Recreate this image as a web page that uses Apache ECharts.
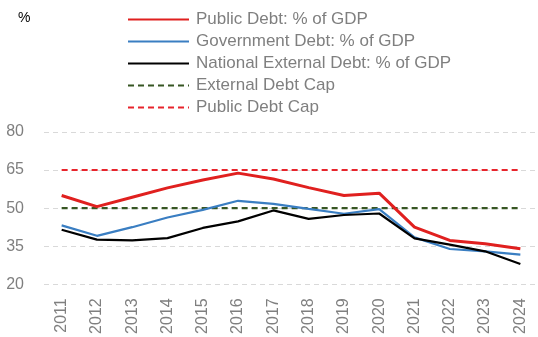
<!DOCTYPE html>
<html>
<head>
<meta charset="utf-8">
<script src="https://cdn.jsdelivr.net/npm/echarts@6/dist/echarts.min.js"></script>
<style>
  html, body { margin: 0; padding: 0; background: #fff; }
  #chart { width: 538px; height: 337px; }
</style>
</head>
<body>
<div id="chart"></div>
<script>
// Years on the category axis
const years = ['2011','2012','2013','2014','2015','2016','2017','2018','2019','2020','2021','2022','2023','2024'];

// Debt ratios, % of GDP
const publicDebt     = [55.0, 50.6, 54.3, 58.0, 61.1, 63.8, 61.5, 58.1, 55.0, 55.9, 42.5, 37.3, 36.0, 34.0];
const governmentDebt = [43.2, 39.1, 42.5, 46.3, 49.3, 52.9, 51.7, 49.7, 47.8, 49.6, 38.5, 33.9, 33.0, 31.7];
const externalDebt   = [41.5, 37.6, 37.3, 38.2, 42.2, 44.8, 49.1, 45.8, 47.3, 47.9, 38.1, 35.6, 33.0, 28.0];

// Statutory caps
const externalDebtCap = years.map(() => 50);
const publicDebtCap   = years.map(() => 65);

// Value axis ticks
const yTicks = [20, 35, 50, 65, 80];

const labelGrey = '#7f7f7f';
const font = 'Liberation Sans, Arial, sans-serif';

const chart = echarts.init(document.getElementById('chart'), null, { renderer: 'canvas' });

function lineSeries(name, data, color, width, type, z) {
  return {
    name, type: 'line', data, z,
    symbol: 'none', smooth: false,
    lineStyle: { color, width, type },
    itemStyle: { color },
    emphasis: { disabled: true },
    animation: false
  };
}

chart.setOption({
  animation: false,
  textStyle: { fontFamily: font },
  grid: { left: 44, right: -6, top: 132, bottom: 52.7, containLabel: false },
  title: {
    text: '%', left: 13, top: 6,
    textStyle: { fontSize: 14, fontWeight: 'normal', color: '#000', fontFamily: font }
  },
  legend: {
    orient: 'vertical', left: 122, top: 6,
    itemWidth: 61, itemHeight: 14, itemGap: 5,
    itemStyle: { opacity: 0 },
    textStyle: { fontSize: 17, color: labelGrey, lineHeight: 14, padding: [0, 0, 0, 2], fontFamily: font },
    data: ['Public Debt: % of GDP', 'Government Debt: % of GDP', 'National External Debt: % of GDP', 'External Debt Cap', 'Public Debt Cap']
  },
  xAxis: {
    type: 'category', data: years, boundaryGap: true,
    axisLine: { show: false },
    axisTick: { show: false },
    axisLabel: { rotate: 90, margin: 14, fontSize: 16, color: labelGrey, fontFamily: font }
  },
  yAxis: {
    type: 'value', min: yTicks[0], max: yTicks[yTicks.length - 1], interval: 15,
    axisLine: { show: false }, axisTick: { show: false },
    axisLabel: { fontSize: 16, color: labelGrey, margin: 20, fontFamily: font },
    splitLine: {
      show: true,
      lineStyle: { color: '#d9d9d9', type: [5, 4], width: 1 }
    }
  },
  series: [
    lineSeries('Public Debt: % of GDP', publicDebt, '#e0201f', 3, 'solid', 5),
    lineSeries('Government Debt: % of GDP', governmentDebt, '#3a7ec2', 2.2, 'solid', 4),
    lineSeries('National External Debt: % of GDP', externalDebt, '#000000', 2.2, 'solid', 4),
    lineSeries('External Debt Cap', externalDebtCap, '#375623', 2.4, [6, 4], 3),
    lineSeries('Public Debt Cap', publicDebtCap, '#e8242c', 2, [6, 4], 3)
  ]
});
</script>
</body>
</html>
